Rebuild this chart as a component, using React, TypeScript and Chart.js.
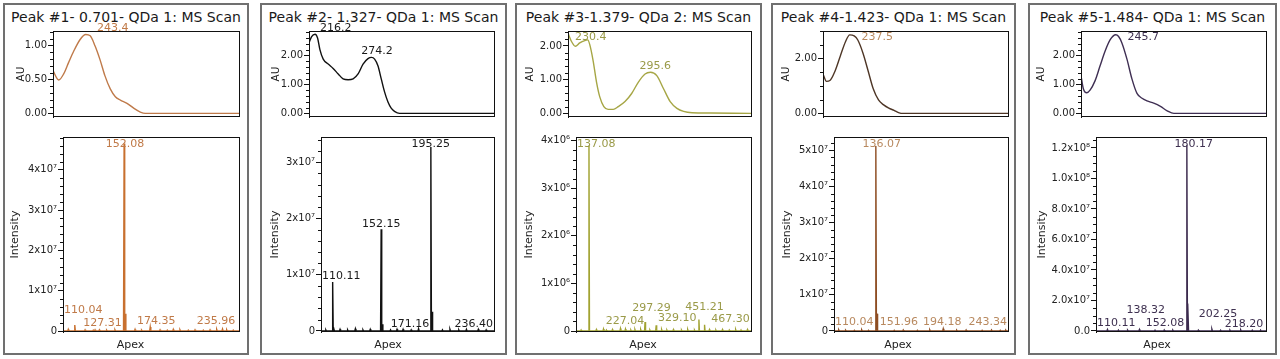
import React, { useEffect, useRef } from "react";
import { Chart, registerables } from "chart.js";

Chart.register(...registerables);

const FONT = '"DejaVu Sans", Verdana, sans-serif';

// ---------- texts ----------
const panelTitles = [
  "Peak #1- 0.701- QDa 1: MS Scan",
  "Peak #2- 1.327- QDa 1: MS Scan",
  "Peak #3-1.379- QDa 2: MS Scan",
  "Peak #4-1.423- QDa 1: MS Scan",
  "Peak #5-1.484- QDa 1: MS Scan",
];
const uvAxisTitle = "AU";
const msAxisTitle = "Intensity";
const xAxisTitle = "Apex";

// ---------- UV spectra (wavelength nm, absorbance AU) ----------
const uvNm1 = [210, 215.8, 220.9, 226, 231, 237.9, 243.4, 248, 253, 258, 263, 268.5, 273.7, 278.8, 285.6, 292.4, 299.2, 304.3, 400];
const uvAu1 = [0.627, 0.49, 0.58, 0.75, 0.91, 1.09, 1.16, 1.14, 0.99, 0.79, 0.555, 0.36, 0.244, 0.196, 0.148, 0.077, 0.02, 0, 0];
const uvNm2 = [210, 212.7, 216.2, 218.8, 221.2, 224.6, 229.7, 234.8, 240, 245, 250.2, 255.3, 260.4, 265.5, 270.6, 274.2, 277.4, 280.8, 284.2, 287.6, 291, 294.4, 297.8, 303, 400];
const uvAu2 = [2.43, 2.65, 2.73, 2.6, 2.2, 1.87, 1.7, 1.55, 1.36, 1.19, 1.16, 1.19, 1.36, 1.7, 1.89, 1.93, 1.87, 1.64, 1.19, 0.74, 0.4, 0.18, 0.07, 0, 0];
const uvNm3 = [210, 213.5, 217.6, 222.2, 227.4, 230.4, 232.6, 236.1, 239.6, 243, 247.2, 251.7, 257, 262.2, 269.2, 276.1, 283.1, 290, 295.6, 302.2, 309.2, 316.1, 323.1, 330, 338.8, 358, 400];
const uvAu3 = [2.38, 2.14, 1.99, 2.09, 2.16, 2.18, 2.04, 1.56, 0.93, 0.49, 0.2, 0.12, 0.12, 0.2, 0.35, 0.59, 0.93, 1.17, 1.22, 1.12, 0.73, 0.35, 0.15, 0.06, 0.02, 0.01, 0];
const uvNm4 = [210, 213.6, 217.1, 222.5, 227.8, 233.2, 237.5, 242, 245.6, 251, 256.3, 261.6, 267, 272.3, 277.6, 283, 288.3, 292, 400];
const uvAu4 = [1.44, 1.17, 1.2, 1.56, 2.1, 2.63, 2.87, 2.83, 2.69, 2.21, 1.56, 0.9, 0.49, 0.31, 0.19, 0.11, 0.02, 0, 0];
const uvNm5 = [210, 212.4, 215.9, 219.3, 224.5, 229.6, 234.8, 240, 245.7, 248.6, 252, 257.2, 262.3, 267.5, 272.7, 277.8, 284.7, 291.6, 298.5, 305.4, 400];
const uvAu5 = [1.3, 0.85, 0.71, 0.8, 1.13, 1.64, 2.15, 2.54, 2.71, 2.65, 2.43, 1.87, 1.19, 0.69, 0.52, 0.43, 0.35, 0.24, 0.09, 0, 0];

const uvPeakNm = [[243.4], [216.2, 274.2], [230.4, 295.6], [237.5], [245.7]];
const uvPeakAu = [[1.16], [2.73, 1.93], [2.18, 1.22], [2.87], [2.71]];

const uvXMin = 210;
const uvXMax = 400;
const uvYMin = [-0.053, -0.125, -0.107, -0.132, -0.125];
const uvYMax = [1.211, 2.841, 2.443, 3.011, 2.841];
const uvTicks = [[0, 0.5, 1], [0, 1, 2], [0, 1, 2], [0, 2], [0, 1, 2]];
const uvTickLabels = [["0.00", "0.50", "1.00"], ["0.00", "1.00", "2.00"], ["0.00", "1.00", "2.00"], ["0.00", "2.00"], ["0.00", "1.00", "2.00"]];
const uvMinorStep = [0.1, 0.2, 0.2, 0.5, 0.2];

// ---------- MS spectra (m/z, intensity) ----------
const msMz1 = [110.04, 127.31, 152.08, 153.08, 174.35, 235.96];
const msInt1 = [1.5e6, 3e5, 4.65e7, 4.3e6, 1.0e6, 5e5];
const msNoiseMz1 = [104.5, 118.8, 125.8, 131.0, 137.2, 144.3, 161.4, 167.0, 182.7, 188.9, 194.0, 199.7, 206.8, 212.5, 219.6, 225.3, 231.0, 239.5, 245.1];
const msNoiseInt1 = [4e5, 3e5, 2e5, 3e5, 2e5, 3e5, 4e5, 2e5, 3e5, 2e5, 4e5, 3e5, 2e5, 3e5, 2e5, 3e5, 4e5, 3e5, 2e5];

const msMz2 = [110.11, 111.11, 152.15, 153.15, 171.16, 195.25, 196.25, 236.4];
const msInt2 = [8.7e6, 6e5, 1.806e7, 1.2e6, 3e5, 3.27e7, 3.4e6, 3e5];
const msNoiseMz2 = [104.2, 116.5, 123.1, 129.8, 136.4, 142.7, 160.3, 165.9, 178.2, 184.6, 205.3, 211.8, 219.5, 226.1, 243.2];
const msNoiseInt2 = [2e5, 3e5, 2e5, 4e5, 2e5, 3e5, 2e5, 3e5, 2e5, 4e5, 2e5, 3e5, 2e5, 3e5, 2e5];

const msMz3 = [137.08, 227.04, 297.29, 329.1, 451.21, 467.3];
const msInt3 = [3.9e6, 5e4, 1.9e5, 1.2e5, 2.4e5, 1.3e5];
const msNoiseMz3 = [114.6, 158.2, 178.5, 186.9, 204.1, 241.3, 256.8, 268.4, 284.9, 311.2, 344.7, 359.8, 378.3, 401.5, 419.2, 438.6, 481.3, 499.7, 518.4, 537.9, 556.2, 571.5, 589.8];
const msNoiseInt3 = [2e4, 3e4, 4e4, 2e4, 3e4, 4e4, 2e4, 3e4, 3e4, 2e4, 3e4, 2e4, 3e4, 2e4, 3e4, 2e4, 3e4, 2e4, 3e4, 2e4, 3e4, 2e4, 3e4];

const msMz4 = [110.04, 136.07, 137.07, 151.96, 194.18, 243.34];
const msInt4 = [2e5, 5.12e7, 4.8e6, 2e5, 6e5, 2e5];
const msNoiseMz4 = [104.1, 117.6, 123.9, 129.8, 159.7, 171.9, 182.6, 205.8, 213.9, 227.7, 235.8, 248.1];
const msNoiseInt4 = [3e5, 2e5, 3e5, 2e5, 3e5, 2e5, 3e5, 2e5, 3e5, 2e5, 3e5, 2e5];

const msMz5 = [110.11, 138.32, 152.08, 180.17, 181.17, 202.25, 218.2];
const msInt5 = [1e6, 1e6, 5e5, 1.218e8, 1.8e7, 1.2e6, 5e5];
const msNoiseMz5 = [119.8, 127.9, 160.2, 167.8, 190.3, 209.9, 227.7, 237.9, 245.2];
const msNoiseInt5 = [6e5, 5e5, 7e5, 5e5, 6e5, 5e5, 7e5, 5e5, 6e5];

const msLabelMz = [
  [110.04, 127.31, 152.08, 174.35, 235.96],
  [110.11, 152.15, 195.25, 171.16, 236.4],
  [137.08, 227.04, 297.29, 329.1, 451.21, 467.3],
  [110.04, 136.07, 151.96, 194.18, 243.34],
  [110.11, 138.32, 152.08, 180.17, 202.25, 218.2],
];

const msXMin = [100, 100, 100, 100, 100];
const msXMax = [250, 250, 600, 250, 250];
const msYMin = [-2.48e5, -1.78e5, -2.1e4, -2.77e5, -6.56e5];
const msYMax = [4.814e7, 3.446e7, 4.076e6, 5.367e7, 1.272e8];
const msTicks = [
  [0, 1e7, 2e7, 3e7, 4e7],
  [0, 1e7, 2e7, 3e7],
  [0, 1e6, 2e6, 3e6, 4e6],
  [0, 1e7, 2e7, 3e7, 4e7, 5e7],
  [0, 2e7, 4e7, 6e7, 8e7, 1e8, 1.2e8],
];
const msTickLabels = [
  ["0", "1x10⁷", "2x10⁷", "3x10⁷", "4x10⁷"],
  ["0", "1x10⁷", "2x10⁷", "3x10⁷"],
  ["0", "1x10⁶", "2x10⁶", "3x10⁶", "4x10⁶"],
  ["0", "1x10⁷", "2x10⁷", "3x10⁷", "4x10⁷", "5x10⁷"],
  ["0.0", "2.0x10⁷", "4.0x10⁷", "6.0x10⁷", "8.0x10⁷", "1.0x10⁸", "1.2x10⁸"],
];
const msMinorStep = [2e6, 2e6, 2e5, 2e6, 5e6];

const uvNm = [uvNm1, uvNm2, uvNm3, uvNm4, uvNm5];
const uvAu = [uvAu1, uvAu2, uvAu3, uvAu4, uvAu5];
const msMz = [msMz1, msMz2, msMz3, msMz4, msMz5];
const msInt = [msInt1, msInt2, msInt3, msInt4, msInt5];
const msNoiseMz = [msNoiseMz1, msNoiseMz2, msNoiseMz3, msNoiseMz4, msNoiseMz5];
const msNoiseInt = [msNoiseInt1, msNoiseInt2, msNoiseInt3, msNoiseInt4, msNoiseInt5];

// ---------- layout & style (pixels / colours) ----------
const panelLeft = [3, 260, 515, 771, 1028];
const panelRight = [249, 507, 762, 1016, 1277];
const uvPlotLeft = [53, 309, 568, 823, 1081];
const msPlotLeft = [63, 321, 576, 834, 1096];
const plotRight = [239, 494, 751, 1008, 1266];
const auTitleX = [21.7, 276.7, 530, 786.7, 1041.7];
const intTitleX = [15, 275, 529.3, 786.7, 1041.7];
const UV_CANVAS_TOP = 22, UV_CANVAS_H = 102, UV_AREA_TOP = 31, UV_AREA_BOTTOM = 119;
const MS_CANVAS_TOP = 127, MS_CANVAS_H = 226, MS_AREA_TOP = 137, MS_AREA_BOTTOM = 332;
const APEX_Y = 345.5;
const peakHalfWidth = [0.5, 0.5, 1.4, 0.5, 0.5];

const uvLabelDx = [[27], [20.7, 5.5], [3, 4.7], [27.5], [27.5]];
const uvLabelDy = [[-6], [-6, -6], [-2.6, -6.5], [2.4], [2.4]];
const msLabelDx = [
  [0, 7.5, 1, 6, -6.5],
  [0, 0, 0, 7, 0],
  [0, 4.5, 6.5, 21, 5.6, 26],
  [0, 6, 4.6, -1, 0],
  [0, 6.3, 10, 7, 6, 14],
];
const msLabelDy = [
  [-9, -1, 0, 0, -2],
  [0, 1, 0, 1, 1],
  [0, -1, -7.4, -0.7, -6.6, 0],
  [-2.3, 0, -2, -1, -2],
  [0, -13.2, -0.6, 0, -9, 0],
];

const uvLineColor = ["#bf7a4a", "#111111", "#a6a645", "#4e3626", "#3f2f53"];
const msLineColor = ["#c8702f", "#111111", "#a2a332", "#8e4d22", "#3b2a4d"];
const labelColor = ["#c07a48", "#1a1a1a", "#9a9a48", "#b8895f", "#3e3050"];
const TEXT = "#222222";
const AXIS = "#111111";

type Pt = { x: number; y: number };
type Lbl = { x: number; y: number; text: string; dx: number; dy: number };

function buildMsLine(i: number): Pt[] {
  const hw = peakHalfWidth[i];
  const peaks = msMz[i]
    .map((m, k) => ({ m, h: msInt[i][k] }))
    .concat(msNoiseMz[i].map((m, k) => ({ m, h: msNoiseInt[i][k] })));
  peaks.sort((a, b) => a.m - b.m);
  const pts: Pt[] = [{ x: msXMin[i], y: 0 }];
  for (const p of peaks) {
    pts.push({ x: p.m - hw, y: 0 }, { x: p.m, y: p.h }, { x: p.m + hw, y: 0 });
  }
  pts.push({ x: msXMax[i], y: 0 });
  return pts;
}

function framePlugin(minorStep: number, majors: number[]) {
  return {
    id: "frameMinor",
    afterDatasetsDraw(chart: any) {
      const { ctx, chartArea } = chart;
      const { left, top, right, bottom } = chartArea;
      const ys = chart.scales.y;
      ctx.save();
      ctx.strokeStyle = AXIS;
      ctx.lineWidth = 1;
      ctx.strokeRect(Math.round(left) + 0.5, Math.round(top) + 0.5, Math.round(right - left), Math.round(bottom - top) - 1);
      ctx.beginPath();
      const start = Math.ceil(ys.min / minorStep) * minorStep;
      for (let v = start; v <= ys.max + 1e-9 * Math.abs(ys.max); v += minorStep) {
        if (majors.some((m) => Math.abs(m - v) < minorStep * 0.01)) continue;
        const y = Math.round(ys.getPixelForValue(v)) + 0.5;
        ctx.moveTo(Math.round(left) - 3, y);
        ctx.lineTo(Math.round(left), y);
      }
      ctx.stroke();
      ctx.restore();
    },
  };
}

function labelPlugin(items: Lbl[], color: string, baseDy: number, clamp: boolean) {
  return {
    id: "peakLabels",
    afterDatasetsDraw(chart: any) {
      const { ctx, chartArea } = chart;
      const xs = chart.scales.x;
      const ys = chart.scales.y;
      ctx.save();
      ctx.font = `11px ${FONT}`;
      ctx.fillStyle = color;
      ctx.textAlign = "center";
      ctx.textBaseline = "middle";
      for (const it of items) {
        const w = ctx.measureText(it.text).width;
        let cx = xs.getPixelForValue(it.x) + it.dx;
        let cy = ys.getPixelForValue(it.y) + baseDy + it.dy;
        if (clamp) {
          cx = Math.max(chartArea.left + 1 + w / 2, Math.min(chartArea.right - 1 - w / 2, cx));
          cy = Math.max(chartArea.top + 7, cy);
        }
        ctx.fillText(it.text, cx, cy);
      }
      ctx.restore();
    },
  };
}

function apexPlugin(text: string, yInCanvas: number) {
  return {
    id: "apexTitle",
    afterDraw(chart: any) {
      const { ctx, width } = chart;
      ctx.save();
      ctx.font = `11px ${FONT}`;
      ctx.fillStyle = TEXT;
      ctx.textAlign = "center";
      ctx.textBaseline = "middle";
      ctx.fillText(text, width / 2 + 4.5, yInCanvas);
      ctx.restore();
    },
  };
}

function yScale(min: number, max: number, ticks: number[], labels: string[], width: number, title: string, titleSize: number, titleX: number, canvasLeft: number) {
  const lh = titleSize * 1.2;
  return {
    type: "linear",
    min,
    max,
    afterBuildTicks: (s: any) => {
      s.ticks = ticks.map((v) => ({ value: v }));
    },
    afterFit: (s: any) => {
      s.width = width;
    },
    ticks: {
      autoSkip: false,
      maxRotation: 0,
      padding: 1,
      color: TEXT,
      font: { family: FONT, size: 10 },
      callback: (v: number) => {
        const k = ticks.findIndex((t) => Math.abs(t - v) <= 1e-9 * Math.max(1, Math.abs(t)));
        return k >= 0 ? labels[k] : "";
      },
    },
    grid: { display: true, drawOnChartArea: false, drawTicks: true, tickLength: 5, color: AXIS, lineWidth: 1 },
    border: { display: true, color: AXIS, width: 1 },
    title: {
      display: true,
      text: title,
      color: TEXT,
      font: { family: FONT, size: titleSize },
      padding: { top: titleX - canvasLeft - lh / 2, bottom: 0 },
    },
  };
}

function makeUv(canvas: HTMLCanvasElement, i: number) {
  const cl = panelLeft[i] + 2;
  const cr = panelRight[i] - 2;
  const pts = uvNm[i].map((x, k) => ({ x, y: uvAu[i][k] }));
  const labels: Lbl[] = uvPeakNm[i].map((nm, k) => ({
    x: nm,
    y: uvPeakAu[i][k],
    text: nm.toFixed(1),
    dx: uvLabelDx[i][k],
    dy: uvLabelDy[i][k],
  }));
  return new Chart(canvas, {
    type: "scatter",
    data: {
      datasets: [
        {
          data: pts,
          showLine: true,
          borderColor: uvLineColor[i],
          borderWidth: 1.4,
          pointRadius: 0,
          pointHoverRadius: 0,
          cubicInterpolationMode: "monotone",
          fill: false,
        } as any,
      ],
    },
    options: {
      animation: false,
      responsive: false,
      events: [],
      layout: {
        padding: { top: UV_AREA_TOP - UV_CANVAS_TOP, bottom: UV_CANVAS_TOP + UV_CANVAS_H - UV_AREA_BOTTOM, left: 0, right: cr - plotRight[i] },
        autoPadding: false,
      } as any,
      plugins: { legend: { display: false }, tooltip: { enabled: false } },
      scales: {
        x: { type: "linear", display: false, min: uvXMin, max: uvXMax },
        y: yScale(uvYMin[i], uvYMax[i], uvTicks[i], uvTickLabels[i], uvPlotLeft[i] - cl, uvAxisTitle, 10.5, auTitleX[i], cl) as any,
      },
    },
    plugins: [framePlugin(uvMinorStep[i], uvTicks[i]), labelPlugin(labels, labelColor[i], 0, false)],
  } as any);
}

function makeMs(canvas: HTMLCanvasElement, i: number) {
  const cl = panelLeft[i] + 2;
  const cr = panelRight[i] - 2;
  const pts = buildMsLine(i);
  const labels: Lbl[] = msLabelMz[i].map((mz, k) => ({
    x: mz,
    y: msInt[i][msMz[i].indexOf(mz)],
    text: mz.toFixed(2),
    dx: msLabelDx[i][k],
    dy: msLabelDy[i][k],
  }));
  return new Chart(canvas, {
    type: "scatter",
    data: {
      datasets: [
        {
          data: pts,
          showLine: true,
          borderColor: msLineColor[i],
          borderWidth: 1.4,
          pointRadius: 0,
          pointHoverRadius: 0,
          tension: 0,
          fill: false,
        } as any,
      ],
    },
    options: {
      animation: false,
      responsive: false,
      events: [],
      layout: {
        padding: { top: MS_AREA_TOP - MS_CANVAS_TOP, bottom: MS_CANVAS_TOP + MS_CANVAS_H - MS_AREA_BOTTOM, left: 0, right: cr - plotRight[i] },
        autoPadding: false,
      } as any,
      plugins: { legend: { display: false }, tooltip: { enabled: false } },
      scales: {
        x: { type: "linear", display: false, min: msXMin[i], max: msXMax[i] },
        y: yScale(msYMin[i], msYMax[i], msTicks[i], msTickLabels[i], msPlotLeft[i] - cl, msAxisTitle, 11, intTitleX[i], cl) as any,
      },
    },
    plugins: [
      framePlugin(msMinorStep[i], msTicks[i]),
      labelPlugin(labels, labelColor[i], -6, true),
      apexPlugin(xAxisTitle, APEX_Y - MS_CANVAS_TOP),
    ],
  } as any);
}

export default function App() {
  const uvRefs = useRef<(HTMLCanvasElement | null)[]>([]);
  const msRefs = useRef<(HTMLCanvasElement | null)[]>([]);

  useEffect(() => {
    const charts: Chart[] = [];
    for (let i = 0; i < 5; i++) {
      const u = uvRefs.current[i];
      const m = msRefs.current[i];
      if (u) charts.push(makeUv(u, i));
      if (m) charts.push(makeMs(m, i));
    }
    return () => charts.forEach((c) => c.destroy());
  }, []);

  return (
    <div style={{ position: "absolute", left: 0, top: 0, width: 1280, height: 359, background: "#ffffff", fontFamily: FONT }}>
      {panelTitles.map((t, i) => {
        const cl = panelLeft[i] + 2;
        const cw = panelRight[i] - 2 - cl;
        return (
          <React.Fragment key={i}>
            <div
              style={{
                position: "absolute",
                left: panelLeft[i],
                top: 3,
                width: panelRight[i] - panelLeft[i],
                height: 352,
                border: "2px solid #707070",
                boxSizing: "border-box",
              }}
            />
            <div
              style={{
                position: "absolute",
                left: panelLeft[i],
                top: 9,
                width: panelRight[i] - panelLeft[i],
                textAlign: "center",
                fontSize: 14,
                lineHeight: "16px",
                color: "#1a1a1a",
                whiteSpace: "nowrap",
              }}
            >
              {t}
            </div>
            <canvas
              ref={(el) => {
                uvRefs.current[i] = el;
              }}
              width={cw}
              height={UV_CANVAS_H}
              style={{ position: "absolute", left: cl, top: UV_CANVAS_TOP, width: cw, height: UV_CANVAS_H }}
            />
            <canvas
              ref={(el) => {
                msRefs.current[i] = el;
              }}
              width={cw}
              height={MS_CANVAS_H}
              style={{ position: "absolute", left: cl, top: MS_CANVAS_TOP, width: cw, height: MS_CANVAS_H }}
            />
          </React.Fragment>
        );
      })}
    </div>
  );
}
